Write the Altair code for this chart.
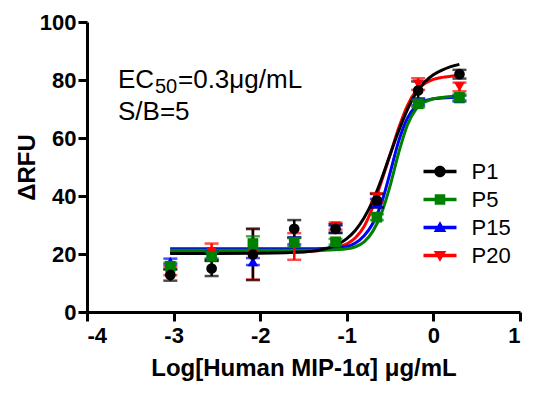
import altair as alt
import pandas as pd

# ---------------- data ----------------
series = ["P1", "P5", "P15", "P20"]
colors = ["#000000", "#008000", "#0000ff", "#ff0000"]
shapes = ["circle", "square", "triangle-up", "triangle-down"]

log_conc = [0.301, -0.176, -0.653, -1.130, -1.607, -2.084, -2.561, -3.038]

p1_mean = [82.0, 76.4, 38.4, 28.7, 28.7, 19.8, 15.0, 12.8]
p1_err = [1.5, 3.1, 2.3, 1.5, 3.0, 8.8, 2.6, 2.0]
p5_mean = [74.0, 71.8, 32.7, 24.2, 24.0, 23.6, 19.2, 15.8]
p5_err = [1.0, 1.2, 1.0, 1.0, 1.5, 2.5, 1.5, 1.2]
p15_mean = [73.6, 72.5, 37.5, 28.6, 24.5, 17.4, 19.6, 17.4]
p15_err = [1.0, 1.2, 1.5, 1.2, 1.2, 1.2, 1.2, 1.0]
p20_mean = [77.6, 78.6, 39.5, 29.6, 22.6, 20.0, 20.8, 14.2]
p20_err = [1.5, 2.0, 1.5, 1.2, 4.6, 8.8, 2.8, 1.5]

# fitted curves
fit_x = [-3.04, -2.5, -2.0, -1.5, -1.2, -1.0, -0.9, -0.8, -0.7, -0.6,
         -0.5, -0.4, -0.3, -0.2, -0.1, 0.0, 0.1, 0.2, 0.3]
p1_fit = [20.2, 20.2, 20.3, 20.7, 22.2, 25.3, 28.2, 32.5, 38.3, 45.8,
          54.3, 62.5, 69.8, 75.5, 79.3, 81.8, 83.4, 84.6, 85.4]
p5_fit = [21.3, 21.3, 21.3, 21.3, 21.4, 21.8, 22.5, 24.2, 27.8, 34.0,
          43.5, 55.0, 64.5, 70.0, 72.4, 73.5, 74.0, 74.3, 74.5]
p15_fit = [21.8, 21.8, 21.8, 21.8, 22.0, 22.6, 23.8, 26.3, 30.5, 37.5,
           48.0, 59.0, 66.8, 71.0, 72.8, 73.5, 73.8, 74.0, 74.1]
p20_fit = [20.6, 20.6, 20.6, 20.8, 21.6, 23.5, 25.6, 29.5, 36.2, 45.0,
           54.2, 63.5, 71.2, 76.2, 78.8, 80.2, 80.9, 81.3, 81.6]

x_ticks = [-4, -3, -2, -1, 0, 1]
y_ticks = [0, 20, 40, 60, 80, 100]

x_title = "Log[Human MIP-1\u03b1] \u03bcg/mL"
y_title = "\u0394RFU"

# ---------------- tables ----------------
means = {"P1": p1_mean, "P5": p5_mean, "P15": p15_mean, "P20": p20_mean}
errs = {"P1": p1_err, "P5": p5_err, "P15": p15_err, "P20": p20_err}
fits = {"P1": p1_fit, "P5": p5_fit, "P15": p15_fit, "P20": p20_fit}
marker_of = dict(zip(series, shapes))

draw_order = ["P20", "P15", "P5", "P1"]   # black drawn last (on top)

pts = pd.DataFrame([
    {"series": s, "marker": marker_of[s], "x": x, "y": m, "err": e}
    for s in draw_order
    for x, m, e in zip(log_conc, means[s], errs[s])
])
curves = pd.DataFrame([
    {"series": s, "x": x, "y": v}
    for s in draw_order
    for x, v in zip(fit_x, fits[s])
])

xs = alt.Scale(domain=[-4, 1], nice=False, zero=False)
ys = alt.Scale(domain=[0, 100], nice=False)
cs = alt.Scale(domain=series, range=colors)

FONT = "Liberation Sans"

bar = "M-1,-0.1H1V0.1H-1Z "
leg_paths = {
    "P1": bar + "M-0.35,0A0.35,0.35 0 1,1 0.35,0A0.35,0.35 0 1,1 -0.35,0Z",
    "P5": bar + "M-0.32,-0.32H0.32V0.32H-0.32Z",
    "P15": bar + "M0,-0.38L0.38,0.28L-0.38,0.28Z",
    "P20": bar + "M-0.38,-0.28L0.38,-0.28L0,0.38Z",
}
sym_expr = (
    f"datum.value === 'P1' ? '{leg_paths['P1']}' : "
    f"datum.value === 'P5' ? '{leg_paths['P5']}' : "
    f"datum.value === 'P15' ? '{leg_paths['P15']}' : '{leg_paths['P20']}'"
)

legend = alt.Legend(
    title=None, orient="none", legendX=336.5, legendY=133,
    symbolSize=1089, symbolType={"expr": sym_expr}, symbolStrokeWidth=0,
    symbolOpacity=1, labelOffset=15, rowPadding=0, padding=0,
    labelFont=FONT, labelFontSize=22, labelColor="black",
)
color_enc = alt.Color("series:N", scale=cs, legend=legend)

x_enc = alt.X("x:Q", scale=xs, axis=alt.Axis(values=x_ticks, title=x_title,
                                             labelExpr="'' + datum.value",
                                             labelPadding=4, titlePadding=10))
y_enc = alt.Y("y:Q", scale=ys, axis=alt.Axis(values=y_ticks, title=y_title,
                                             labelPadding=2, titlePadding=0))

lines = alt.Chart(curves).mark_line(strokeWidth=3, interpolate="monotone").encode(
    x=x_enc, y=y_enc, color=color_enc, detail="series:N",
)

base_err = alt.Chart(pts).transform_calculate(
    lo="datum.y - datum.err", hi="datum.y + datum.err"
)
err_rule = base_err.mark_rule(strokeWidth=2.5).encode(
    x="x:Q", y="lo:Q", y2="hi:Q", color=color_enc,
)
cap_lo = base_err.mark_tick(orient="horizontal", size=14, thickness=2.5).encode(
    x="x:Q", y="lo:Q", color=color_enc,
)
cap_hi = base_err.mark_tick(orient="horizontal", size=14, thickness=2.5).encode(
    x="x:Q", y="hi:Q", color=color_enc,
)

points = alt.Chart(pts).mark_point(filled=True, size=115, opacity=1).encode(
    x="x:Q", y="y:Q", color=color_enc,
    shape=alt.Shape("marker:N", scale=None),
)

def label(text, x, y, size):
    return alt.Chart(alt.Data(values=[{}])).mark_text(
        text=text, align="left", baseline="alphabetic", font=FONT,
        fontSize=size, color="black",
    ).encode(x=alt.value(x), y=alt.value(y))

annot = [
    label("EC", 31, 66, 26),
    label("50", 68, 71, 20),
    label("=0.3\u03bcg/mL", 91, 66, 26),
    label("S/B=5", 31, 98, 26),
]

chart = alt.layer(lines, err_rule, cap_lo, cap_hi, points, *annot).properties(
    width=433, height=290,
    autosize="none",
    background="white",
    padding={"left": 79, "top": 14, "right": 15, "bottom": 70},
).configure_view(stroke=None).configure_axis(
    domainColor="black", domainWidth=3, tickColor="black", tickWidth=3, tickSize=9,
    grid=False, labelFont=FONT, labelFontWeight="bold", labelFontSize=22,
    labelColor="black", titleFont=FONT, titleFontWeight="bold", titleFontSize=24,
    titleColor="black",
)

chart.save("out.html", embed_options={"renderer": "svg", "actions": False})
